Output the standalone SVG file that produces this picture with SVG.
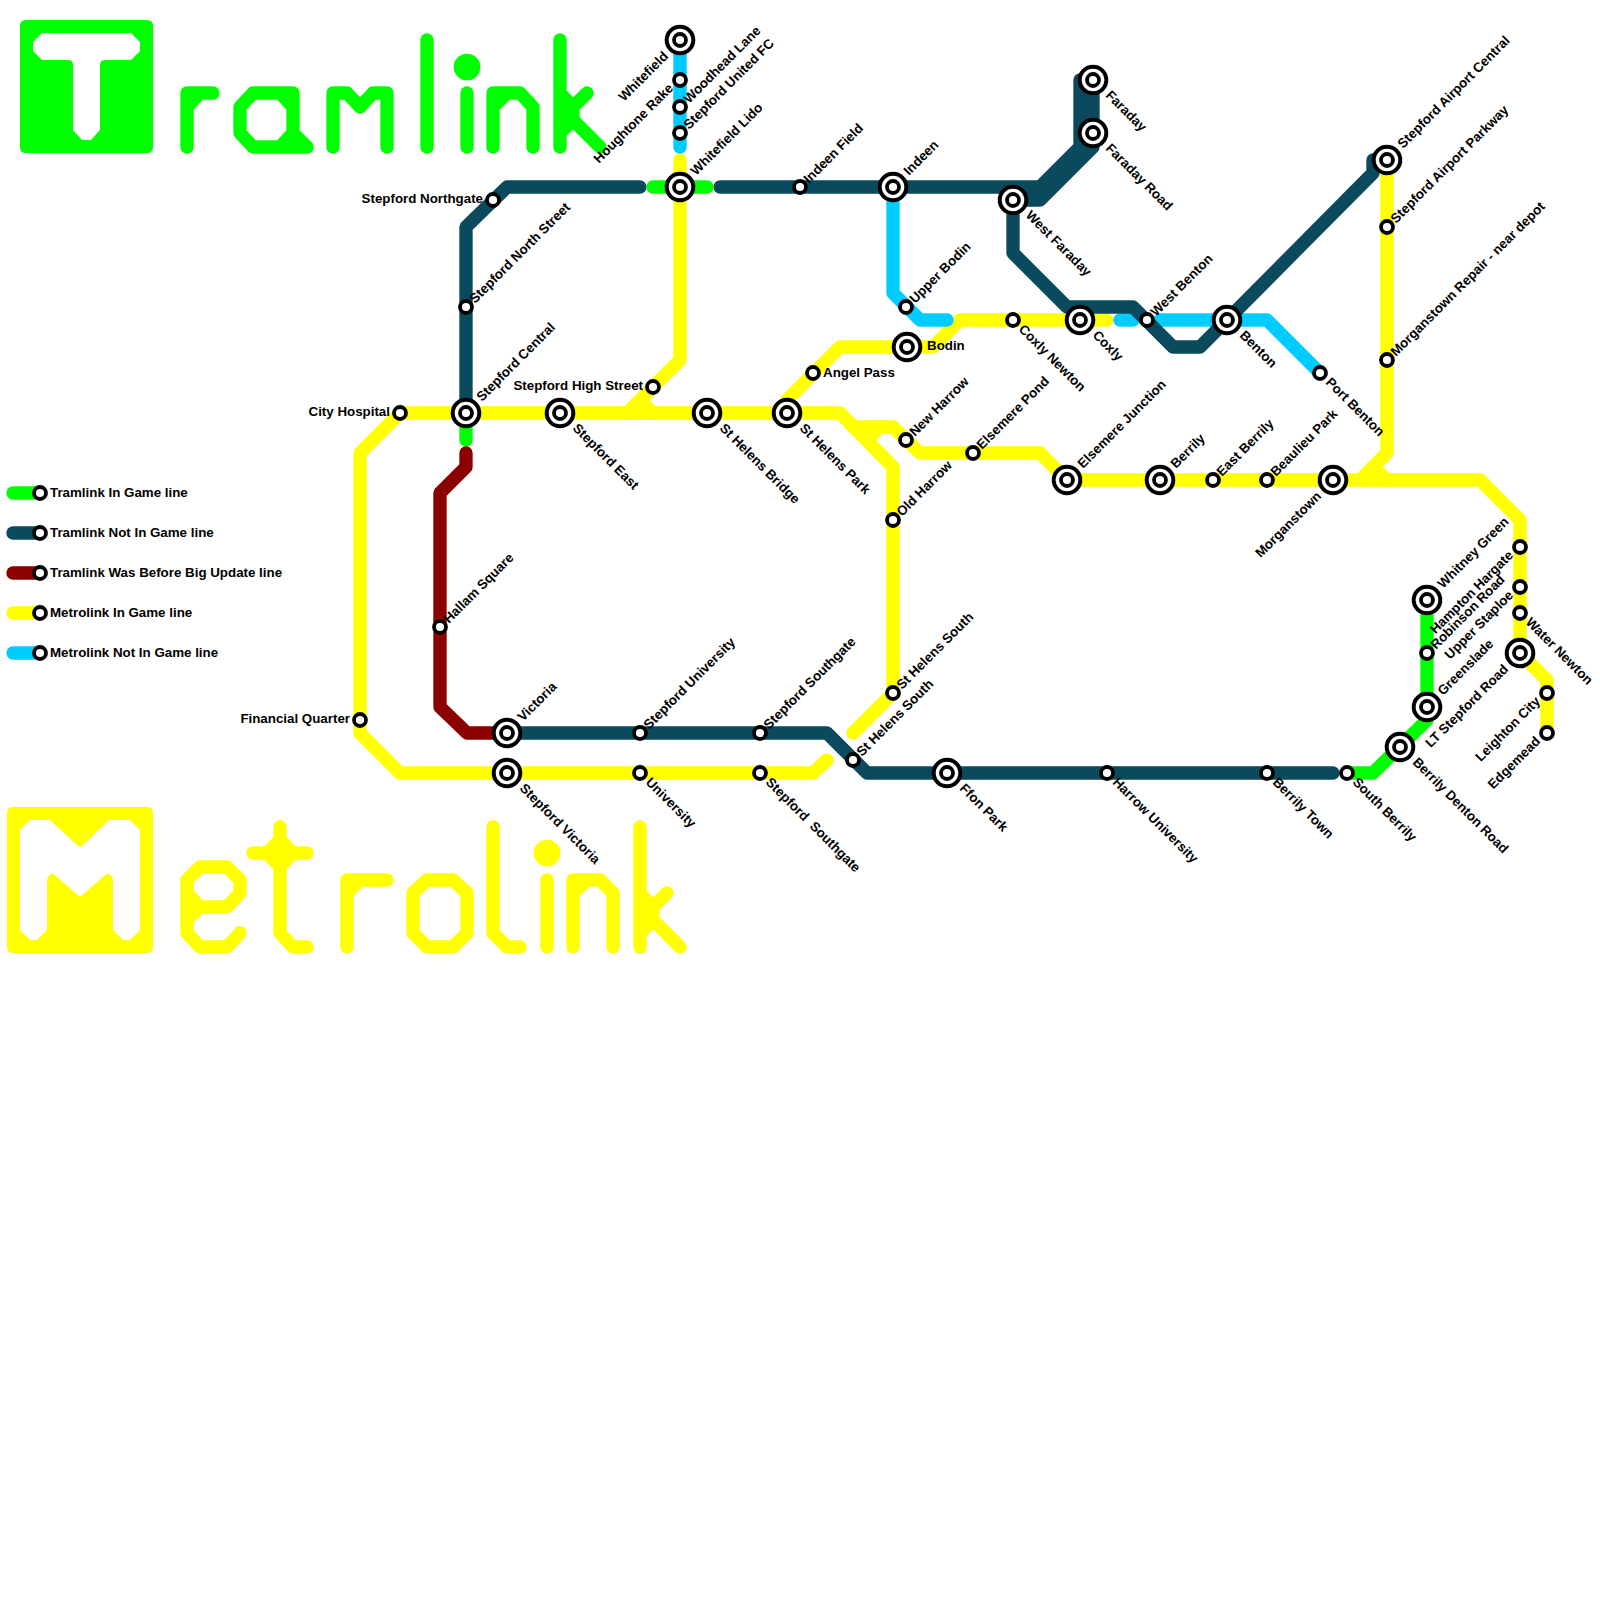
<svg xmlns="http://www.w3.org/2000/svg" width="1600" height="1600" viewBox="0 0 1600 1600">
<style>
.l{fill:none;stroke-width:13.33;stroke-linecap:round;stroke-linejoin:round}
.g{stroke:#00ff00}.t{stroke:#0b4a5c}.m{stroke:#8b0000}.y{stroke:#ffff00}.c{stroke:#00ccff}
.sb{fill:#fff;stroke:#000;stroke-width:4}.si{fill:#fff;stroke:#000;stroke-width:3.8}
text{font-family:"Liberation Sans",Arial,sans-serif;font-weight:bold;font-size:13.33px;fill:#000}
.e{text-anchor:end}
</style>
<rect width="1600" height="1600" fill="#fff"/>
<g id="logo-tramlink">
<path fill="#00ff00" fill-rule="evenodd" d="M26 20H147Q153 20 153 26V147Q153 153 147 153H26Q20 153 20 147V26Q20 20 26 20ZM42 33L33 42V51L42 60H68Q73 60 73 65V130L82 140H91L100 130V65Q100 60 105 60H131L140 51V42L131 33Z"/>
<g class="l g">
<path d="M187 147V93H213M187 107L200 93"/>
<path d="M253 93H293V133L307 147H253L240 133V107ZM280 93L293 107M293 133L280 147"/>
<path d="M333 147V93H347L360 107L373 93H387V147"/>
<path d="M427 40V147"/><path d="M467 93V147"/>
<path d="M493 147V93H520L533 107V147M493 107L507 93"/>
<path d="M560 40V147M560 93L573 107L587 93M573 107V120L600 147M560 133L573 120"/>
</g>
<circle cx="467" cy="67" r="13.33" fill="#00ff00"/>
</g>
<g id="logo-metrolink">
<path fill="#ffff00" fill-rule="evenodd" d="M13 807H147Q153 807 153 813V947Q153 953 147 953H13Q7 953 7 947V813Q7 807 13 807ZM30 820L20 830V930L30 940H37L47 930V880Q50 870 57 877L80 897L103 877Q110 870 113 880V930L123 940H130L140 930V830L130 820H109L83 845Q80 848 77 845L50 820Z"/>
<g class="l y">
<path d="M187 907H227L240 893V880L227 867H200L187 880V933L200 947H227L240 933M187 893L200 907L187 920"/>
<path d="M280 827V933L293 947H307M253 853H307M267 853L280 840L293 853L280 867Z"/>
<path d="M347 947V880H387M347 893L360 880"/>
<path d="M427 880H453L467 893V933L453 947H427L413 933V893Z"/>
<path d="M493 827V933L507 947H520"/>
<path d="M547 880V947"/>
<path d="M573 947V880H600L613 893V947M573 893L587 880"/>
<path d="M640 827V947M640 893L653 907L667 893M653 907V920L680 947M640 933L653 920"/>
</g>
<circle cx="547" cy="853" r="13.33" fill="#ffff00"/>
</g>
<g id="connectors">
<path class="l y" d="M680 160V360L627 413M640 400L653 413"/>
<path class="l y" d="M787 413V400L840 347H933L960 320H1107"/>
<path class="l y" d="M893 693V467L840 413H400L360 453V733L400 773H813L827 760"/>
<path class="l y" d="M893 693L853 733"/>
<path class="l y" d="M853 427H893L920 453H1040L1067 480H1480L1520 520V653L1547 680V733"/>
<path class="l y" d="M880 427L867 440"/>
<path class="l y" d="M1387 160V453L1360 480M1373 467L1387 480"/>
<path class="l c" d="M680 40V147"/>
<path class="l c" d="M893 187V293L920 320H947"/>
<path class="l c" d="M1120 320H1133"/>
<path class="l c" d="M1160 320H1267L1320 373"/>
<path class="l t" d="M640 187H507L466 227V413"/>
<path class="l t" d="M720 187H1040L1080 147V80"/>
<path class="l t" d="M1013 200H1040L1093 147V80"/>
<path class="l t" d="M1027 193H1040L1086 147V80"/>
<path class="l t" d="M1013 200V253L1067 307H1133L1173 347H1200L1227 320L1373 173V160"/>
<path class="l t" d="M507 733H827L867 773H1333"/>
<path class="l g" d="M653 187H707"/>
<path class="l g" d="M466 413V440"/>
<path class="l g" d="M1347 773H1373L1427 720V600"/>
<path class="l m" d="M466 453V467L440 493V707L467 733H507"/>
</g>
<g id="legend">
<path class="l g" d="M13 493H40"/><circle class="si" cx="40" cy="493" r="6"/><text x="50" y="497">Tramlink In Game line</text>
<path class="l t" d="M13 533H40"/><circle class="si" cx="40" cy="533" r="6"/><text x="50" y="537">Tramlink Not In Game line</text>
<path class="l m" d="M13 573H40"/><circle class="si" cx="40" cy="573" r="6"/><text x="50" y="577">Tramlink Was Before Big Update line</text>
<path class="l y" d="M13 613H40"/><circle class="si" cx="40" cy="613" r="6"/><text x="50" y="617">Metrolink In Game line</text>
<path class="l c" d="M13 653H40"/><circle class="si" cx="40" cy="653" r="6"/><text x="50" y="657">Metrolink Not In Game line</text>
</g>
<g id="st-whitefield"><circle class="sb" cx="680" cy="40" r="13.3"/><circle class="si" cx="680" cy="40" r="6"/><text class="e" x="669" y="57" transform="rotate(-45 669 57)">Whitefield</text></g>
<g id="st-houghtone-rake"><circle class="si" cx="680" cy="80" r="6"/><text class="e" x="674" y="89" transform="rotate(-45 674 89)">Houghtone Rake</text></g>
<g id="st-woodhead-lane"><circle class="si" cx="680" cy="107" r="6"/><text x="689" y="104" transform="rotate(-45 689 104)">Woodhead Lane</text></g>
<g id="st-stepford-united"><circle class="si" cx="680" cy="133" r="6"/><text x="689" y="130" transform="rotate(-45 689 130)">Stepford United FC</text></g>
<g id="st-whitefield-lido"><circle class="sb" cx="680" cy="187" r="13.3"/><circle class="si" cx="680" cy="187" r="6"/><text x="696" y="176" transform="rotate(-45 696 176)">Whitefield Lido</text></g>
<g id="st-indeen-field"><circle class="si" cx="800" cy="187" r="6"/><text x="809" y="184" transform="rotate(-45 809 184)">Indeen Field</text></g>
<g id="st-indeen"><circle class="sb" cx="893" cy="187" r="13.3"/><circle class="si" cx="893" cy="187" r="6"/><text x="909" y="176" transform="rotate(-45 909 176)">Indeen</text></g>
<g id="st-stepford-northgate"><circle class="si" cx="493" cy="200" r="6"/><text class="e" x="483" y="203">Stepford Northgate</text></g>
<g id="st-stepford-north-street"><circle class="si" cx="466" cy="307" r="6"/><text x="475" y="304" transform="rotate(-45 475 304)">Stepford North Street</text></g>
<g id="st-stepford-central"><circle class="sb" cx="466" cy="413" r="13.3"/><circle class="si" cx="466" cy="413" r="6"/><text x="482" y="402" transform="rotate(-45 482 402)">Stepford Central</text></g>
<g id="st-city-hospital"><circle class="si" cx="400" cy="413" r="6"/><text class="e" x="390" y="416">City Hospital</text></g>
<g id="st-stepford-east"><circle class="sb" cx="560" cy="413" r="13.3"/><circle class="si" cx="560" cy="413" r="6"/><text x="572" y="429" transform="rotate(45 572 429)">Stepford East</text></g>
<g id="st-stepford-high-street"><circle class="si" cx="653" cy="387" r="6"/><text class="e" x="643" y="390">Stepford High Street</text></g>
<g id="st-st-helens-bridge"><circle class="sb" cx="707" cy="413" r="13.3"/><circle class="si" cx="707" cy="413" r="6"/><text x="719" y="429" transform="rotate(45 719 429)">St Helens Bridge</text></g>
<g id="st-st-helens-park"><circle class="sb" cx="787" cy="413" r="13.3"/><circle class="si" cx="787" cy="413" r="6"/><text x="799" y="429" transform="rotate(45 799 429)">St Helens Park</text></g>
<g id="st-angel-pass"><circle class="si" cx="813" cy="373" r="6"/><text x="823" y="377">Angel Pass</text></g>
<g id="st-bodin"><circle class="sb" cx="907" cy="347" r="13.3"/><circle class="si" cx="907" cy="347" r="6"/><text x="927" y="350">Bodin</text></g>
<g id="st-upper-bodin"><circle class="si" cx="906" cy="307" r="6"/><text x="915" y="304" transform="rotate(-45 915 304)">Upper Bodin</text></g>
<g id="st-new-harrow"><circle class="si" cx="906" cy="440" r="6"/><text x="915" y="437" transform="rotate(-45 915 437)">New Harrow</text></g>
<g id="st-old-harrow"><circle class="si" cx="893" cy="520" r="6"/><text x="902" y="517" transform="rotate(-45 902 517)">Old Harrow</text></g>
<g id="st-elsemere-pond"><circle class="si" cx="973" cy="453" r="6"/><text x="982" y="450" transform="rotate(-45 982 450)">Elsemere Pond</text></g>
<g id="st-elsemere-junction"><circle class="sb" cx="1067" cy="480" r="13.3"/><circle class="si" cx="1067" cy="480" r="6"/><text x="1083" y="469" transform="rotate(-45 1083 469)">Elsemere Junction</text></g>
<g id="st-coxly-newton"><circle class="si" cx="1013" cy="320" r="6"/><text x="1018" y="330" transform="rotate(45 1018 330)">Coxly Newton</text></g>
<g id="st-coxly"><circle class="sb" cx="1080" cy="320" r="13.3"/><circle class="si" cx="1080" cy="320" r="6"/><text x="1092" y="336" transform="rotate(45 1092 336)">Coxly</text></g>
<g id="st-west-faraday"><circle class="sb" cx="1013" cy="200" r="13.3"/><circle class="si" cx="1013" cy="200" r="6"/><text x="1025" y="216" transform="rotate(45 1025 216)">West Faraday</text></g>
<g id="st-faraday"><circle class="sb" cx="1093" cy="80" r="13.3"/><circle class="si" cx="1093" cy="80" r="6"/><text x="1105" y="96" transform="rotate(45 1105 96)">Faraday</text></g>
<g id="st-faraday-road"><circle class="sb" cx="1093" cy="133" r="13.3"/><circle class="si" cx="1093" cy="133" r="6"/><text x="1105" y="149" transform="rotate(45 1105 149)">Faraday Road</text></g>
<g id="st-west-benton"><circle class="si" cx="1147" cy="320" r="6"/><text x="1156" y="317" transform="rotate(-45 1156 317)">West Benton</text></g>
<g id="st-benton"><circle class="sb" cx="1227" cy="320" r="13.3"/><circle class="si" cx="1227" cy="320" r="6"/><text x="1239" y="336" transform="rotate(45 1239 336)">Benton</text></g>
<g id="st-port-benton"><circle class="si" cx="1320" cy="373" r="6"/><text x="1325" y="383" transform="rotate(45 1325 383)">Port Benton</text></g>
<g id="st-airport-central"><circle class="sb" cx="1387" cy="160" r="13.3"/><circle class="si" cx="1387" cy="160" r="6"/><text x="1403" y="149" transform="rotate(-45 1403 149)">Stepford Airport Central</text></g>
<g id="st-airport-parkway"><circle class="si" cx="1387" cy="227" r="6"/><text x="1396" y="224" transform="rotate(-45 1396 224)">Stepford Airport Parkway</text></g>
<g id="st-morganstown-repair"><circle class="si" cx="1387" cy="360" r="6"/><text x="1396" y="357" transform="rotate(-45 1396 357)">Morganstown Repair - near depot</text></g>
<g id="st-morganstown"><circle class="sb" cx="1333" cy="480" r="13.3"/><circle class="si" cx="1333" cy="480" r="6"/><text class="e" x="1322" y="497" transform="rotate(-45 1322 497)">Morganstown</text></g>
<g id="st-berrily"><circle class="sb" cx="1160" cy="480" r="13.3"/><circle class="si" cx="1160" cy="480" r="6"/><text x="1176" y="469" transform="rotate(-45 1176 469)">Berrily</text></g>
<g id="st-east-berrily"><circle class="si" cx="1213" cy="480" r="6"/><text x="1222" y="477" transform="rotate(-45 1222 477)">East Berrily</text></g>
<g id="st-beaulieu-park"><circle class="si" cx="1267" cy="480" r="6"/><text x="1276" y="477" transform="rotate(-45 1276 477)">Beaulieu Park</text></g>
<g id="st-whitney-green"><circle class="sb" cx="1427" cy="600" r="13.3"/><circle class="si" cx="1427" cy="600" r="6"/><text x="1443" y="589" transform="rotate(-45 1443 589)">Whitney Green</text></g>
<g id="st-hampton-hargate"><circle class="si" cx="1520" cy="547" r="6"/><text class="e" x="1514" y="556" transform="rotate(-45 1514 556)">Hampton Hargate</text></g>
<g id="st-robinson-road"><circle class="si" cx="1427" cy="653" r="6"/><text x="1436" y="650" transform="rotate(-45 1436 650)">Robinson Road</text></g>
<g id="st-upper-staploe"><circle class="si" cx="1520" cy="587" r="6"/><text class="e" x="1514" y="596" transform="rotate(-45 1514 596)">Upper Staploe</text></g>
<g id="st-water-newton"><circle class="si" cx="1520" cy="613" r="6"/><text x="1525" y="623" transform="rotate(45 1525 623)">Water Newton</text></g>
<g id="st-lt-stepford-road"><circle class="sb" cx="1520" cy="653" r="13.3"/><circle class="si" cx="1520" cy="653" r="6"/><text class="e" x="1509" y="670" transform="rotate(-45 1509 670)">LT Stepford Road</text></g>
<g id="st-greenslade"><circle class="sb" cx="1427" cy="707" r="13.3"/><circle class="si" cx="1427" cy="707" r="6"/><text x="1443" y="696" transform="rotate(-45 1443 696)">Greenslade</text></g>
<g id="st-berrily-denton-road"><circle class="sb" cx="1400" cy="747" r="13.3"/><circle class="si" cx="1400" cy="747" r="6"/><text x="1412" y="763" transform="rotate(45 1412 763)">Berrily Denton Road</text></g>
<g id="st-south-berrily"><circle class="si" cx="1347" cy="773" r="6"/><text x="1352" y="783" transform="rotate(45 1352 783)">South Berrily</text></g>
<g id="st-leighton-city"><circle class="si" cx="1547" cy="693" r="6"/><text class="e" x="1541" y="702" transform="rotate(-45 1541 702)">Leighton City</text></g>
<g id="st-edgemead"><circle class="si" cx="1547" cy="733" r="6"/><text class="e" x="1541" y="742" transform="rotate(-45 1541 742)">Edgemead</text></g>
<g id="st-berrily-town"><circle class="si" cx="1267" cy="773" r="6"/><text x="1272" y="783" transform="rotate(45 1272 783)">Berrily Town</text></g>
<g id="st-harrow-university"><circle class="si" cx="1107" cy="773" r="6"/><text x="1112" y="783" transform="rotate(45 1112 783)">Harrow University</text></g>
<g id="st-ffon-park"><circle class="sb" cx="947" cy="773" r="13.3"/><circle class="si" cx="947" cy="773" r="6"/><text x="959" y="789" transform="rotate(45 959 789)">Ffon Park</text></g>
<g id="st-st-helens-south-a"><circle class="si" cx="893" cy="693" r="6"/><text x="902" y="690" transform="rotate(-45 902 690)">St Helens South</text></g>
<g id="st-st-helens-south-b"><circle class="si" cx="853" cy="760" r="6"/><text x="862" y="757" transform="rotate(-45 862 757)">St Helens South</text></g>
<g id="st-stepford-southgate"><circle class="si" cx="760" cy="733" r="6"/><text x="769" y="730" transform="rotate(-45 769 730)">Stepford Southgate</text></g>
<g id="st-stepford-southgate-2"><circle class="si" cx="760" cy="773" r="6"/><text x="765" y="783" transform="rotate(45 765 783)" xml:space="preserve">Stepford  Southgate</text></g>
<g id="st-stepford-university"><circle class="si" cx="640" cy="733" r="6"/><text x="649" y="730" transform="rotate(-45 649 730)">Stepford University</text></g>
<g id="st-university"><circle class="si" cx="640" cy="773" r="6"/><text x="645" y="783" transform="rotate(45 645 783)">University</text></g>
<g id="st-victoria"><circle class="sb" cx="507" cy="733" r="13.3"/><circle class="si" cx="507" cy="733" r="6"/><text x="523" y="722" transform="rotate(-45 523 722)">Victoria</text></g>
<g id="st-stepford-victoria"><circle class="sb" cx="507" cy="773" r="13.3"/><circle class="si" cx="507" cy="773" r="6"/><text x="519" y="789" transform="rotate(45 519 789)">Stepford Victoria</text></g>
<g id="st-financial-quarter"><circle class="si" cx="360" cy="720" r="6"/><text class="e" x="350" y="723">Financial Quarter</text></g>
<g id="st-hallam-square"><circle class="si" cx="440" cy="627" r="6"/><text x="449" y="624" transform="rotate(-45 449 624)">Hallam Square</text></g>
</svg>
